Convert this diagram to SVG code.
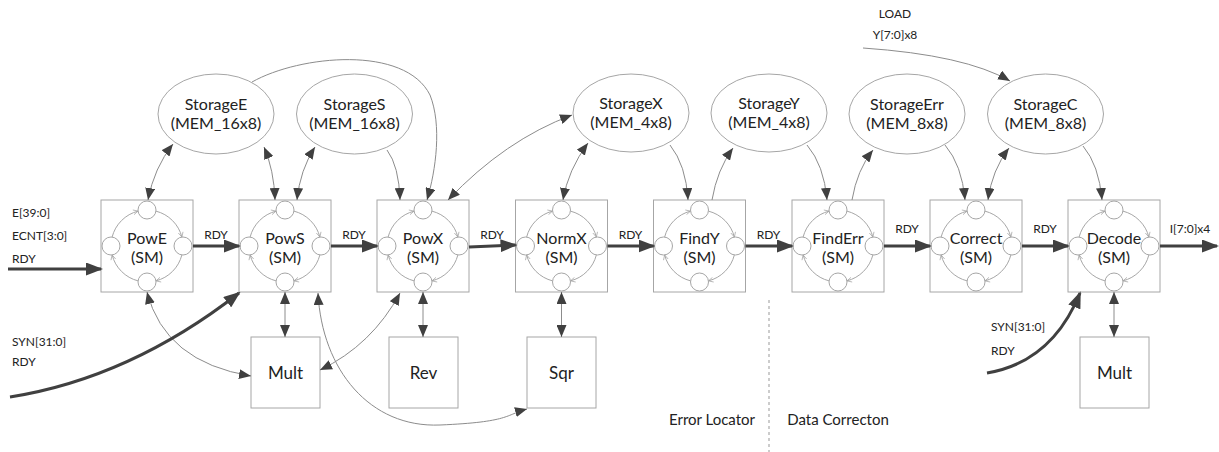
<svg xmlns="http://www.w3.org/2000/svg" xmlns:xlink="http://www.w3.org/1999/xlink" width="1219" height="452" viewBox="0 0 1219 452">
<style>
.box{fill:#fff;stroke:#a6a6a6;stroke-width:1}
.ell{fill:#fff;stroke:#a6a6a6;stroke-width:1}
.t{font-family:Lato,"Liberation Sans",sans-serif;fill:#222;text-anchor:middle}
.n{font-size:16px}
.s{font-size:12px}
.sl{font-size:12px;text-anchor:start}
.big{font-size:17px}
.thin{fill:none;stroke:#8c8c8c;stroke-width:1}
.thinab{fill:none;stroke:#8c8c8c;stroke-width:1;marker-end:url(#a)}
.thinbi{fill:none;stroke:#8c8c8c;stroke-width:1;marker-start:url(#a);marker-end:url(#a)}
.thick{fill:none;stroke:#404040;stroke-width:3;marker-end:url(#A)}
.sc{fill:#fff;stroke:#a6a6a6;stroke-width:1}
.arc{fill:none;stroke:#a6a6a6;stroke-width:1;marker-end:url(#chev)}
</style>
<defs>
<marker id="a" viewBox="0 0 12 10" refX="12" refY="5" markerWidth="12" markerHeight="10" markerUnits="userSpaceOnUse" orient="auto-start-reverse"><path d="M0,0 L12,5 L0,10 z" fill="#404040"/></marker>
<marker id="A" viewBox="0 0 17 13" refX="15" refY="6.5" markerWidth="17" markerHeight="13" markerUnits="userSpaceOnUse" orient="auto"><path d="M0,0 L17,6.5 L0,13 z" fill="#404040"/></marker>
<marker id="chev" viewBox="0 0 10 10" refX="9" refY="5" markerWidth="6" markerHeight="6" markerUnits="userSpaceOnUse" orient="auto"><path d="M1,1 L9,5 L1,9" fill="none" stroke="#a6a6a6" stroke-width="1.2"/></marker>
<g id="ring">
<path class="arc" d="M8.93,-34.88 A36,36 0 0 1 34.88,-8.93"/>
<path class="arc" d="M34.88,8.93 A36,36 0 0 1 8.93,34.88"/>
<path class="arc" d="M-8.93,34.88 A36,36 0 0 1 -34.88,8.93"/>
<path class="arc" d="M-34.88,-8.93 A36,36 0 0 1 -8.93,-34.88"/>
<circle class="sc" cx="0" cy="-36" r="9"/>
<circle class="sc" cx="36" cy="0" r="9"/>
<circle class="sc" cx="0" cy="36" r="9"/>
<circle class="sc" cx="-36" cy="0" r="9"/>
</g>
</defs>
<rect width="1219" height="452" fill="#fff"/>

<!-- state machine nodes -->
<g id="PowE"><rect class="box" x="101" y="200" width="92" height="92"/><use href="#ring" x="147" y="246"/><text class="t n" x="147" y="244">PowE</text><text class="t n" x="147" y="263">(SM)</text></g>
<g id="PowS"><rect class="box" x="239" y="200" width="92" height="92"/><use href="#ring" x="285" y="246"/><text class="t n" x="285" y="244">PowS</text><text class="t n" x="285" y="263">(SM)</text></g>
<g id="PowX"><rect class="box" x="377" y="200" width="92" height="92"/><use href="#ring" x="423" y="246"/><text class="t n" x="423" y="244">PowX</text><text class="t n" x="423" y="263">(SM)</text></g>
<g id="NormX"><rect class="box" x="515.5" y="200" width="92" height="92"/><use href="#ring" x="561.5" y="246"/><text class="t n" x="561.5" y="244">NormX</text><text class="t n" x="561.5" y="263">(SM)</text></g>
<g id="FindY"><rect class="box" x="653.5" y="200" width="92" height="92"/><use href="#ring" x="699.5" y="246"/><text class="t n" x="699.5" y="244">FindY</text><text class="t n" x="699.5" y="263">(SM)</text></g>
<g id="FindErr"><rect class="box" x="792" y="200" width="92" height="92"/><use href="#ring" x="838" y="246"/><text class="t n" x="838" y="244">FindErr</text><text class="t n" x="838" y="263">(SM)</text></g>
<g id="Correct"><rect class="box" x="930" y="200" width="92" height="92"/><use href="#ring" x="976" y="246"/><text class="t n" x="976" y="244">Correct</text><text class="t n" x="976" y="263">(SM)</text></g>
<g id="Decode"><rect class="box" x="1068" y="200" width="92" height="92"/><use href="#ring" x="1114" y="246"/><text class="t n" x="1114" y="244">Decode</text><text class="t n" x="1114" y="263">(SM)</text></g>

<!-- memories -->
<g id="StorageE"><ellipse class="ell" cx="216" cy="114" rx="58" ry="40"/><text class="t n" x="216" y="110">StorageE</text><text class="t n" x="216" y="129">(MEM_16x8)</text></g>
<g id="StorageS"><ellipse class="ell" cx="354.5" cy="114" rx="58" ry="40"/><text class="t n" x="354.5" y="110">StorageS</text><text class="t n" x="354.5" y="129">(MEM_16x8)</text></g>
<g id="StorageX"><ellipse class="ell" cx="631" cy="113" rx="58" ry="39"/><text class="t n" x="631" y="109">StorageX</text><text class="t n" x="631" y="128">(MEM_4x8)</text></g>
<g id="StorageY"><ellipse class="ell" cx="769" cy="113" rx="58" ry="39"/><text class="t n" x="769" y="109">StorageY</text><text class="t n" x="769" y="128">(MEM_4x8)</text></g>
<g id="StorageErr"><ellipse class="ell" cx="907" cy="114" rx="58" ry="40"/><text class="t n" x="907" y="110">StorageErr</text><text class="t n" x="907" y="129">(MEM_8x8)</text></g>
<g id="StorageC"><ellipse class="ell" cx="1045.5" cy="114" rx="58" ry="40"/><text class="t n" x="1045.5" y="110">StorageC</text><text class="t n" x="1045.5" y="129">(MEM_8x8)</text></g>

<!-- functional units -->
<g id="Mult1"><rect class="box" x="251" y="337" width="69" height="71"/><text class="t big" x="285.5" y="379">Mult</text></g>
<g id="Rev"><rect class="box" x="389" y="337" width="69" height="71"/><text class="t big" x="423.5" y="379">Rev</text></g>
<g id="Sqr"><rect class="box" x="527" y="337" width="69" height="71"/><text class="t big" x="561.5" y="379">Sqr</text></g>
<g id="Mult2"><rect class="box" x="1080" y="337" width="69" height="71"/><text class="t big" x="1114.5" y="379">Mult</text></g>

<!-- connectors -->
<g id="connectors">
<path class="thinbi" d="M173,144 Q154,168 148,200"/>
<path class="thinbi" d="M264,147 Q274,170 275,200"/>
<path class="thinbi" d="M315,147 Q300,170 297,200"/>
<path class="thinab" d="M387,150 Q399,166 400,200"/>
<path class="thinab" d="M252,82 C300,55 405,45 430,95 C442,125 436,170 427,200"/>
<path class="thinbi" d="M572,115 Q505,140 448,200"/>
<path class="thinbi" d="M588,143 Q568,170 563,200"/>
<path class="thinab" d="M670,145 Q686,165 688,200"/>
<path class="thinab" d="M712,200 Q717,170 733,148"/>
<path class="thinab" d="M807,145 Q824,165 827,200"/>
<path class="thinab" d="M852,200 Q857,170 873,150"/>
<path class="thinab" d="M945,145 Q962,165 965,200"/>
<path class="thinbi" d="M1009,148 Q992,170 988,200"/>
<path class="thinab" d="M1083,146 Q1099,165 1102,200"/>
<path class="thinab" d="M863,48 Q965,55 1010,81"/>
<path class="thinbi" d="M147,292 Q165,362 251,376"/>
<path class="thinbi" d="M285,292 L285,337"/>
<path class="thinbi" d="M400,293 Q372,345 320,370"/>
<path class="thinbi" d="M318,293 C322,370 370,428 440,425 S505,415 527,409"/>
<path class="thinbi" d="M423,292 L423,337"/>
<path class="thinbi" d="M561.5,292 L561.5,337"/>
<path class="thinbi" d="M1114,292 L1114,337"/>

<path class="thick" d="M8,269 L101,269"/>
<path class="thick" d="M193,246 L239,246"/>
<path class="thick" d="M331,246 L377,246"/>
<path class="thick" d="M469,247 L515.5,245"/>
<path class="thick" d="M607.5,246 L653.5,246"/>
<path class="thick" d="M745.5,246 L792,246"/>
<path class="thick" d="M884,246 L930,246"/>
<path class="thick" d="M1022,246 L1068,246"/>
<path class="thick" d="M1160,246 L1217,246"/>
<path class="thick" d="M10,397 Q130,378 239,293"/>
<path class="thick" d="M987,373 Q1052,362 1080,293"/>

<line x1="769" y1="300" x2="769" y2="452" stroke="#999" stroke-width="1" stroke-dasharray="3,3"/>
</g>

<!-- labels -->
<g id="labels">
<text class="t sl" x="12" y="217">E[39:0]</text>
<text class="t sl" x="12" y="240">ECNT[3:0]</text>
<text class="t sl" x="12" y="263">RDY</text>
<text class="t sl" x="12" y="346">SYN[31:0]</text>
<text class="t sl" x="12" y="366">RDY</text>
<text class="t s" x="216" y="239">RDY</text>
<text class="t s" x="354" y="239">RDY</text>
<text class="t s" x="492" y="239">RDY</text>
<text class="t s" x="630.5" y="239">RDY</text>
<text class="t s" x="768.5" y="239">RDY</text>
<text class="t s" x="907" y="233">RDY</text>
<text class="t s" x="1045" y="233">RDY</text>
<text class="t s" x="1190" y="233">I[7:0]x4</text>
<text class="t s" x="895" y="18">LOAD</text>
<text class="t s" x="895" y="39">Y[7:0]x8</text>
<text class="t sl" x="991" y="331">SYN[31:0]</text>
<text class="t sl" x="991" y="355">RDY</text>
<text class="t" style="font-size:15px" x="712" y="425">Error Locator</text>
<text class="t" style="font-size:15px" x="838" y="425">Data Correcton</text>
</g>
</svg>
